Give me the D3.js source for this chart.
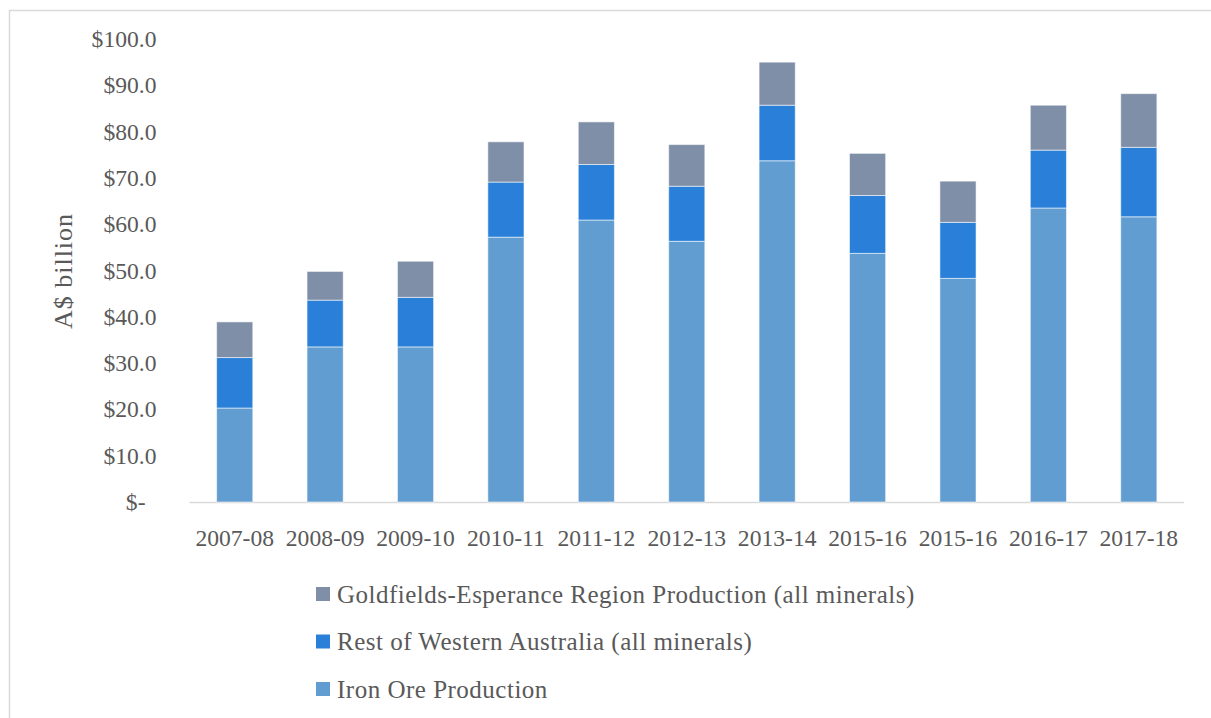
<!DOCTYPE html>
<html>
<head>
<meta charset="utf-8">
<script src="https://cdn.jsdelivr.net/npm/d3@7/dist/d3.min.js"></script>
<style>
  html, body { margin: 0; padding: 0; background: #fff; }
  svg { display: block; }
  text { font-family: "Liberation Serif", "Times New Roman", serif; fill: #595959; }
</style>
</head>
<body>
<svg id="chart" width="1211" height="718"></svg>
<script>
// Financial years (2015-16 appears twice in the source series)
const categories = ["2007-08", "2008-09", "2009-10", "2010-11", "2011-12", "2012-13",
                    "2013-14", "2015-16", "2015-16", "2016-17", "2017-18"];

// Production value, A$ billion
const ironOre     = [20.3, 33.5, 33.5, 57.2, 60.9, 56.3, 73.7, 53.7, 48.3, 63.5, 61.6];
const restOfWA    = [10.9, 10.1, 10.7, 11.9, 12.0, 11.9, 12.0, 12.5, 12.1, 12.5, 15.0];
const goldfields  = [ 7.7,  6.2,  7.8,  8.7,  9.2,  9.0,  9.3,  9.1,  8.9,  9.7, 11.6];

const seriesNames = ["Iron Ore Production",
                     "Rest of Western Australia (all minerals)",
                     "Goldfields-Esperance Region Production (all minerals)"];
const seriesColors = ["#629dd1", "#2a80d8", "#808fa8"];

const yTicks = [0, 10, 20, 30, 40, 50, 60, 70, 80, 90, 100];

const svg = d3.select("#chart");

// outer frame
svg.append("rect")
  .attr("x", 9.5).attr("y", 10.5)
  .attr("width", 1400).attr("height", 900)
  .attr("fill", "none").attr("stroke", "#d9d9d9").attr("stroke-width", 1.5);

const plot = { left: 189.5, right: 1184, top: 39, bottom: 502 };

const rows = categories.map((c, i) => ({
  idx: i, cat: c, iron: ironOre[i], rest: restOfWA[i], gold: goldfields[i]
}));

const x = d3.scaleBand()
  .domain(d3.range(categories.length))
  .range([plot.left, plot.right])
  .paddingInner(0.6).paddingOuter(0.3);

const y = d3.scaleLinear().domain([0, 100]).range([plot.bottom, plot.top]);

const stack = d3.stack().keys(["iron", "rest", "gold"]);
const layers = stack(rows);

// x axis
const xAxis = svg.append("g")
  .attr("transform", `translate(0,${plot.bottom})`)
  .call(d3.axisBottom(x).tickSize(0).tickPadding(27).tickFormat(i => categories[i]));
xAxis.select(".domain").remove();
xAxis.selectAll("text").attr("font-size", "23.6px").style("font-family", null);

svg.append("line")
  .attr("x1", plot.left).attr("x2", plot.right)
  .attr("y1", plot.bottom + 0.5).attr("y2", plot.bottom + 0.5)
  .attr("stroke", "#d9d9d9").attr("stroke-width", 1.5);

// y axis
const yAxis = svg.append("g")
  .attr("transform", `translate(${plot.left},0)`)
  .call(d3.axisLeft(y).tickValues(yTicks).tickSize(0).tickPadding(33)
    .tickFormat(v => v === 0 ? "$-" : "$" + d3.format(".1f")(v)));
yAxis.select(".domain").remove();
yAxis.selectAll("text").attr("font-size", "23.6px").style("font-family", null);
yAxis.selectAll(".tick").filter(v => v === 0).select("text").attr("dx", -11);

// stacked bars
svg.append("g").selectAll("g")
  .data(layers)
  .join("g")
    .attr("fill", (d, i) => seriesColors[i])
  .selectAll("rect")
  .data(d => d)
  .join("rect")
    .attr("x", d => x(d.data.idx))
    .attr("width", x.bandwidth())
    .attr("y", d => y(d[1]))
    .attr("height", d => y(d[0]) - y(d[1]))
    .attr("stroke", "#ffffff").attr("stroke-opacity", 0.55).attr("stroke-width", 1);

// y axis title
svg.append("text")
  .attr("transform", "translate(63,271) rotate(-90)")
  .attr("text-anchor", "middle")
  .attr("dominant-baseline", "central")
  .attr("font-size", "26px")
  .attr("letter-spacing", "1px")
  .text("A$ billion");

// legend (top entry is the top of the stack)
const legendOrder = [2, 1, 0];
const legend = svg.append("g").selectAll("g")
  .data(legendOrder)
  .join("g")
    .attr("transform", (d, i) => `translate(316,${594 + i * 47.5})`);
legend.append("rect")
  .attr("x", 0).attr("y", -7).attr("width", 14).attr("height", 14)
  .attr("fill", d => seriesColors[d]);
legend.append("text")
  .attr("x", 21).attr("y", 0)
  .attr("dominant-baseline", "central")
  .attr("font-size", "25px")
  .attr("letter-spacing", "0.5px")
  .text(d => seriesNames[d]);
</script>
</body>
</html>
